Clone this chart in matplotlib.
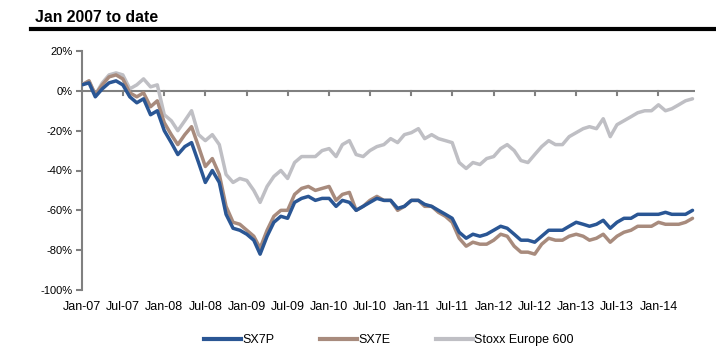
import pandas as pd
import matplotlib.pyplot as plt
from matplotlib.lines import Line2D

plt.rcParams["font.family"] = ["Liberation Sans", "DejaVu Sans"]

# monthly readings, Jan 2007 .. Jun 2014 (% change since Jan 2007)
dates = pd.date_range("2007-01-01", "2014-06-01", freq="MS")

sx7p = [3, 4, -3, 1, 4, 5, 3, -3, -6, -4, -12, -10,
        -20, -26, -32, -28, -26, -36, -46, -40, -46, -62, -69, -70,
        -72, -75, -82, -73, -66, -63, -64, -56, -54, -53, -55, -54,
        -54, -58, -55, -56, -60, -58, -56, -54, -55, -55, -59, -58,
        -55, -55, -57, -58, -60, -62, -64, -71, -74, -72, -73, -72,
        -70, -68, -69, -72, -75, -75, -76, -73, -70, -70, -70, -68,
        -66, -67, -68, -67, -65, -69, -66, -64, -64, -62, -62, -62,
        -62, -61, -62, -62, -62, -60]

sx7e = [3, 5, -2, 3, 7, 8, 6, -1, -3, -1, -8, -5,
        -16, -22, -27, -22, -18, -28, -38, -34, -42, -58, -66, -67,
        -70, -73, -79, -70, -63, -60, -60, -52, -49, -48, -50, -49,
        -48, -55, -52, -51, -60, -58, -55, -53, -55, -55, -60, -58,
        -55, -55, -58, -58, -61, -63, -66, -74, -78, -76, -77, -77,
        -75, -72, -73, -78, -81, -81, -82, -77, -74, -75, -75, -73,
        -72, -73, -75, -74, -72, -76, -73, -71, -70, -68, -68, -68,
        -66, -67, -67, -67, -66, -64]

stoxx = [3, 5, -2, 4, 8, 9, 8, 1, 3, 6, 2, 3,
         -12, -15, -20, -15, -10, -22, -25, -22, -27, -42, -46, -44,
         -45, -50, -56, -48, -43, -40, -44, -36, -33, -33, -33, -30,
         -29, -33, -27, -25, -32, -33, -30, -28, -27, -24, -26, -22,
         -21, -19, -24, -22, -24, -25, -26, -36, -39, -36, -37, -34,
         -33, -29, -27, -30, -35, -36, -32, -28, -25, -27, -27, -23,
         -21, -19, -18, -19, -14, -23, -17, -15, -13, -11, -10, -10,
         -7, -10, -9, -7, -5, -4]

tick_dates = pd.date_range("2007-01-01", "2014-01-01", freq="6MS")
tick_labels = [d.strftime("%b-%y") for d in tick_dates]

blue = "#2a5694"
brown = "#a88b7d"
grey = "#bfbfc4"
axis_grey = "#808080"

fig = plt.figure(figsize=(7.16, 3.52), dpi=100)
ax = fig.add_axes([82 / 716, 1 - 290 / 352, (695 - 82) / 716, (290 - 51) / 352])

ax.plot(dates, stoxx, color=grey, lw=2.5, solid_capstyle="round", zorder=3)
ax.plot(dates, sx7e, color=brown, lw=2.5, solid_capstyle="round", zorder=4)
ax.plot(dates, sx7p, color=blue, lw=2.5, solid_capstyle="round", zorder=5)

ax.set_ylim(-100, 20)
ax.set_yticks(range(-100, 21, 20))
ax.set_yticklabels([f"{v}%" for v in range(-100, 21, 20)])
ax.set_xlim(pd.Timestamp("2007-01-01"), pd.Timestamp("2014-06-12"))
ax.set_xticks(tick_dates)
ax.set_xticklabels(tick_labels)

for s in ["top", "right", "bottom"]:
    ax.spines[s].set_visible(False)
ax.spines["left"].set_color(axis_grey)
ax.spines["left"].set_linewidth(1.5)
ax.tick_params(axis="y", colors=axis_grey, length=4, width=1.5, labelsize=8,
               labelcolor="black", pad=3)
ax.tick_params(axis="x", length=0, labelsize=9, pad=8)

# zero line with small downward ticks
ax.axhline(0, color=axis_grey, lw=1.5, zorder=2)
for d in tick_dates[1:]:
    ax.plot([d, d], [0, -2], color=axis_grey, lw=1.5, zorder=2, clip_on=False)

# title and rule
fig.text(35 / 716, 1 - 17 / 352, "Jan 2007 to date", fontsize=11.3,
         fontweight="bold", va="center", ha="left")
fig.add_artist(Line2D([31 / 716, 1], [1 - 29 / 352] * 2, color="black", lw=3))

handles = [Line2D([], [], color=blue, lw=3),
           Line2D([], [], color=brown, lw=3),
           Line2D([], [], color=grey, lw=3)]
fig.legend(handles, ["SX7P", "SX7E", "Stoxx Europe 600"], loc="center",
           bbox_to_anchor=(389 / 716, 1 - 340 / 352), ncol=3, frameon=False,
           fontsize=9, handlelength=2.95, handletextpad=0.15, columnspacing=3.6)

fig.savefig("out.png", dpi=100)
